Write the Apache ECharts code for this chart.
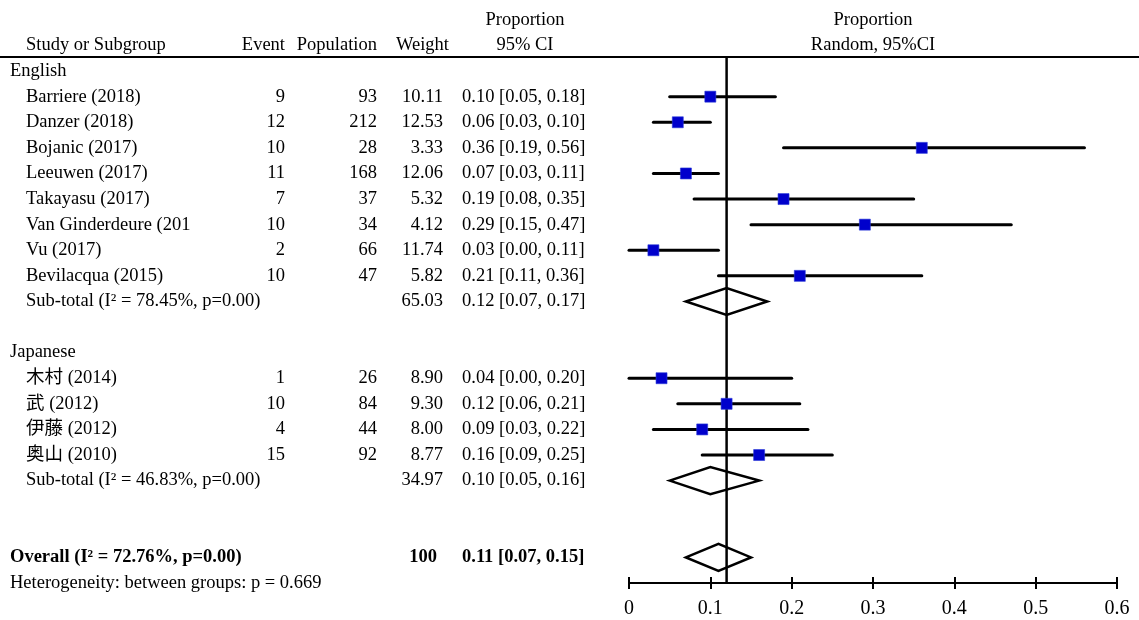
<!DOCTYPE html>
<html>
<head>
<meta charset="utf-8">
<script src="https://cdn.jsdelivr.net/npm/echarts@6/dist/echarts.min.js"></script>
<style>
  html, body { margin: 0; padding: 0; background: #fff; }
  #chart { width: 1139px; height: 620px; }
</style>
</head>
<body>
<div id="chart"></div>
<script>
// ---- English-language studies ----
const enNames = ['Barriere (2018)', 'Danzer (2018)', 'Bojanic (2017)', 'Leeuwen (2017)',
  'Takayasu (2017)', 'Van Ginderdeure (201', 'Vu (2017)', 'Bevilacqua (2015)'];
const enEvents = [9, 12, 10, 11, 7, 10, 2, 10];
const enPopulation = [93, 212, 28, 168, 37, 34, 66, 47];
const enWeight = [10.11, 12.53, 3.33, 12.06, 5.32, 4.12, 11.74, 5.82];
const enProp = [0.10, 0.06, 0.36, 0.07, 0.19, 0.29, 0.03, 0.21];
const enLow = [0.05, 0.03, 0.19, 0.03, 0.08, 0.15, 0.00, 0.11];
const enHigh = [0.18, 0.10, 0.56, 0.11, 0.35, 0.47, 0.11, 0.36];

// ---- Japanese-language studies ----
const jpNames = ['木村 (2014)', '武 (2012)', '伊藤 (2012)', '奥山 (2010)'];
const jpEvents = [1, 10, 4, 15];
const jpPopulation = [26, 84, 44, 92];
const jpWeight = [8.90, 9.30, 8.00, 8.77];
const jpProp = [0.04, 0.12, 0.09, 0.16];
const jpLow = [0.00, 0.06, 0.03, 0.09];
const jpHigh = [0.20, 0.21, 0.22, 0.25];

// ---- Pooled estimates: English sub-total, Japanese sub-total, overall ----
const groupNames = ['English', 'Japanese'];
const pooledI2 = [78.45, 46.83, 72.76];
const pooledP = ['0.00', '0.00', '0.00'];
const pooledWeight = ['65.03', '34.97', '100'];
const pooledProp = [0.12, 0.10, 0.11];
const pooledLow = [0.07, 0.05, 0.07];
const pooledHigh = [0.17, 0.16, 0.15];
const heterogeneityP = '0.669';
const referenceValue = 0.12;

// ---- Axis ticks ----
const xTicks = [0, 0.1, 0.2, 0.3, 0.4, 0.5, 0.6];

// ---- Layout ----
const FONT = "'Liberation Serif', 'Noto Sans CJK JP', serif";
const FONT_SIZE = 18.5;
const ROW_MIN = -0.55, ROW_MAX = 20;
const COL = { group: 10, name: 26, event: 285, pop: 377, weight: 443, ci: 462, ciHead: 525, plotHead: 873 };

const fmt2 = v => v.toFixed(2);
const ciText = (p, l, h) => `${fmt2(p)} [${fmt2(l)}, ${fmt2(h)}]`;

// Build table rows and plot marks
const cells = [];
const studyMarks = [];
const diamondMarks = [];
function cell(x, row, text, align, opts) {
  cells.push(Object.assign({ x, row, text, align: align || 'left', weight: 'normal', size: FONT_SIZE }, opts || {}));
}

// header
cell(COL.ciHead, -2.0, 'Proportion', 'center');
cell(COL.name, -1.02, 'Study or Subgroup');
cell(COL.event, -1.02, 'Event', 'right');
cell(COL.pop, -1.02, 'Population', 'right');
cell(COL.weight + 6, -1.02, 'Weight', 'right');
cell(COL.ciHead, -1.02, '95% CI', 'center');
cell(COL.plotHead, -2.0, 'Proportion', 'center');
cell(COL.plotHead, -1.02, 'Random, 95%CI', 'center');

let row = 0;
function addGroup(gi, names, events, pops, weights, props, lows, highs) {
  cell(COL.group, row, groupNames[gi]);
  row++;
  names.forEach((n, i) => {
    cell(COL.name, row, n);
    cell(COL.event, row, String(events[i]), 'right');
    cell(COL.pop, row, String(pops[i]), 'right');
    cell(COL.weight, row, fmt2(weights[i]), 'right');
    cell(COL.ci, row, ciText(props[i], lows[i], highs[i]));
    studyMarks.push([row, props[i], lows[i], highs[i]]);
    row++;
  });
  cell(COL.name, row, `Sub-total (I² = ${pooledI2[gi]}%, p=${pooledP[gi]})`);
  cell(COL.weight, row, pooledWeight[gi], 'right');
  cell(COL.ci, row, ciText(pooledProp[gi], pooledLow[gi], pooledHigh[gi]));
  diamondMarks.push([row, pooledProp[gi], pooledLow[gi], pooledHigh[gi]]);
  row += 2;
}
addGroup(0, enNames, enEvents, enPopulation, enWeight, enProp, enLow, enHigh);
addGroup(1, jpNames, jpEvents, jpPopulation, jpWeight, jpProp, jpLow, jpHigh);
row += 1;
cell(COL.group, row, `Overall (I² = ${pooledI2[2]}%, p=${pooledP[2]})`, 'left', { weight: 'bold' });
cell(COL.weight - 6, row, pooledWeight[2], 'right', { weight: 'bold' });
cell(COL.ci, row, ciText(pooledProp[2], pooledLow[2], pooledHigh[2]), 'left', { weight: 'bold' });
diamondMarks.push([row, pooledProp[2], pooledLow[2], pooledHigh[2]]);
row++;
cell(COL.group, row, `Heterogeneity: between groups: p = ${heterogeneityP}`);

const chart = echarts.init(document.getElementById('chart'), null, { renderer: 'canvas' });

const hiddenY = (gridIndex) => ({
  type: 'value', gridIndex, min: ROW_MIN, max: ROW_MAX, inverse: true, show: false,
  axisLine: { onZero: false }, splitLine: { show: false }
});

const option = {
  backgroundColor: '#ffffff',
  animation: false,
  grid: [
    { left: 629, right: 22, top: 57, bottom: 37 },   // forest plot
    { left: 0, width: 629, top: 57, bottom: 37 }      // table
  ],
  xAxis: [
    {
      type: 'value', gridIndex: 0, position: 'bottom',
      min: xTicks[0], max: xTicks[xTicks.length - 1], interval: 0.1,
      axisLine: { show: true, onZero: false, lineStyle: { color: '#000', width: 2 } },
      axisTick: { show: true, length: 6, lineStyle: { color: '#000', width: 2 } },
      axisLabel: { color: '#000', fontSize: 20, fontFamily: FONT, margin: 16 },
      splitLine: { show: false }
    },
    {
      type: 'value', gridIndex: 0, position: 'bottom',
      min: xTicks[0], max: xTicks[xTicks.length - 1], interval: 0.1,
      axisLine: { show: false, onZero: false },
      axisTick: { show: true, inside: true, length: 6, lineStyle: { color: '#000', width: 2 } },
      axisLabel: { show: false },
      splitLine: { show: false }
    },
    { type: 'value', gridIndex: 1, min: 0, max: 629, show: false, axisLine: { onZero: false }, splitLine: { show: false } }
  ],
  yAxis: [hiddenY(0), hiddenY(1)],
  graphic: [
    { type: 'line', shape: { x1: 0, y1: 57, x2: 1139, y2: 57 }, style: { stroke: '#000', lineWidth: 2 }, z: 10 }
  ],
  series: [
    {
      // vertical reference line
      type: 'custom', name: 'reference', xAxisIndex: 0, yAxisIndex: 0, z: 1,
      data: [[referenceValue]],
      encode: { x: 0 },
      renderItem: (params, api) => {
        const v = api.value(0);
        const a = api.coord([v, ROW_MIN]);
        const b = api.coord([v, ROW_MAX]);
        return { type: 'line', shape: { x1: a[0], y1: a[1], x2: b[0], y2: b[1] },
          style: { stroke: '#000', lineWidth: 2.5 } };
      }
    },
    {
      // individual studies: CI whisker + square
      type: 'custom', name: 'studies', xAxisIndex: 0, yAxisIndex: 0, z: 3,
      data: studyMarks,
      encode: { y: 0, x: [1, 2, 3] },
      renderItem: (params, api) => {
        const r = api.value(0);
        const c = api.coord([api.value(1), r]);
        const a = api.coord([api.value(2), r]);
        const b = api.coord([api.value(3), r]);
        const s = 11;
        return { type: 'group', children: [
          { type: 'line', shape: { x1: a[0], y1: a[1], x2: b[0], y2: b[1] },
            style: { stroke: '#000', lineWidth: 3, lineCap: 'round' } },
          { type: 'rect', shape: { x: c[0] - s / 2, y: c[1] - s / 2, width: s, height: s },
            style: { fill: '#0000CC', stroke: '#2a3ad8', lineWidth: 0.6 } }
        ] };
      }
    },
    {
      // pooled estimates: diamonds
      type: 'custom', name: 'pooled', xAxisIndex: 0, yAxisIndex: 0, z: 3,
      data: diamondMarks,
      encode: { y: 0, x: [1, 2, 3] },
      renderItem: (params, api) => {
        const r = api.value(0);
        const c = api.coord([api.value(1), r]);
        const a = api.coord([api.value(2), r]);
        const b = api.coord([api.value(3), r]);
        const h = 13.5;
        return { type: 'polygon',
          shape: { points: [[a[0], c[1]], [c[0], c[1] - h], [b[0], c[1]], [c[0], c[1] + h]] },
          style: { fill: 'none', stroke: '#000', lineWidth: 2.5, lineJoin: 'miter' } };
      }
    },
    {
      // table text
      type: 'custom', name: 'table', xAxisIndex: 2, yAxisIndex: 1, z: 4,
      data: cells.map(c => [c.x, c.row]),
      encode: { x: 0, y: 1 },
      renderItem: (params, api) => {
        const c = cells[params.dataIndex];
        const p = api.coord([api.value(0), api.value(1)]);
        return { type: 'text', x: p[0], y: p[1],
          style: { text: c.text, fill: '#000', fontSize: c.size, fontFamily: FONT,
            fontWeight: c.weight, align: c.align, verticalAlign: 'middle' } };
      }
    }
  ]
};

chart.setOption(option);
</script>
</body>
</html>
